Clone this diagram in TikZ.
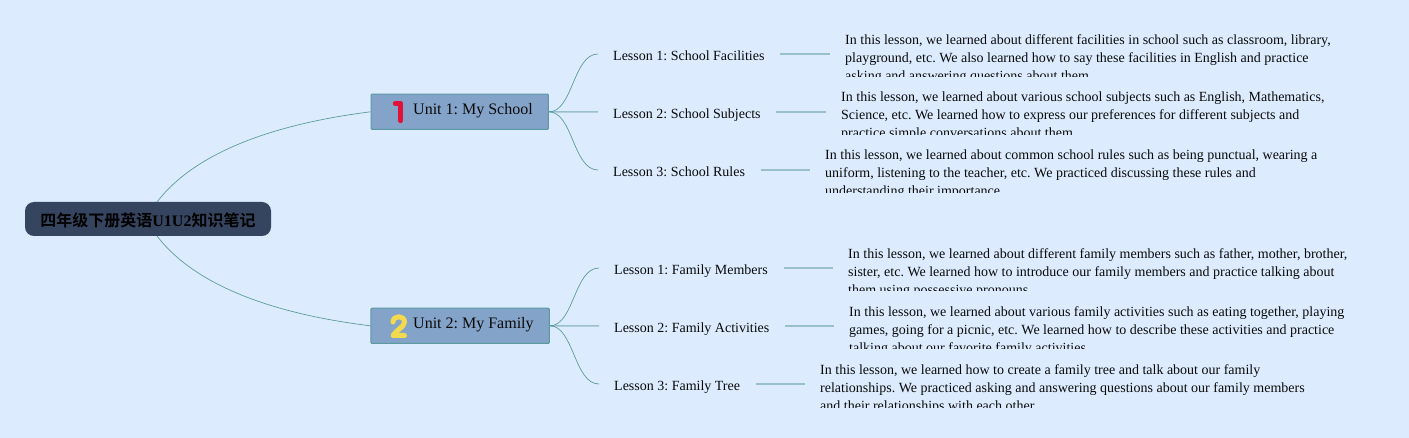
\documentclass[tikz,border=0pt]{standalone}
\usepackage{fontspec}
\setmainfont{Liberation Serif}
\newfontfamily\cjk{Noto Sans CJK SC}[BoldFont={* Bold}]
\definecolor{bgc}{HTML}{DCECFE}
\definecolor{rootc}{HTML}{36455F}
\definecolor{unitc}{HTML}{84A3C8}
\definecolor{edgec}{HTML}{5C9AA2}
\definecolor{linec}{HTML}{9ABFCC}
\definecolor{txtc}{HTML}{0A0A0A}
\definecolor{onec}{HTML}{E0123A}
\definecolor{twoc}{HTML}{F2D94E}
\tikzset{
  rootbox/.style={draw=none,fill=rootc,rounded corners=9pt,minimum width=246pt,minimum height=34pt,inner sep=0pt,font=\fontsize{16}{18}\selectfont\bfseries},
  unitbox/.style={draw=edgec,line width=1pt,fill=unitc,rounded corners=1pt,minimum height=35.4pt,inner sep=0pt},
  unitlabel/.style={anchor=base west,inner sep=0pt,font=\fontsize{16}{18}\selectfont,text=txtc},
  lesson/.style={anchor=base west,inner sep=0pt,font=\fontsize{14}{16}\selectfont,text=txtc},
  desc/.style={anchor=north west,inner sep=0pt,align=left,font=\fontsize{14}{18}\selectfont,text=txtc},
  thin link/.style={draw=edgec,line width=0.7pt},
  lead/.style={draw=linec,line width=1.5pt},
}
\newcommand{\dtext}[5]{%
  \begin{scope}
    \clip (#1,#2) rectangle (1409,#2+43);
    \node[desc] (#3) at (#1,#2) {#4\\#5};
  \end{scope}}
\newcommand{\leadline}[3]{%
  \coordinate (p#1) at ([xshift=15.5pt,yshift=7pt]#1.base east);
  \draw[lead] (p#1) -- (#2.west |- p#1);}
\begin{document}
\begin{tikzpicture}[x=1pt,y=-1pt]
\frenchspacing
\useasboundingbox (0,0) rectangle (1409,438);
\fill[bgc] (0,0) rectangle (1409,438);
% nodes
\node[rootbox] (root) at (148,219) {};
\node[inner sep=0pt,font=\fontsize{16}{18}\selectfont\bfseries] (roott) at (148,220) {\cjk\textbf{四年级下册英语}\rmfamily\textbf{U1U2}\cjk\textbf{知识笔记}};
\node[unitbox,minimum width=177.4pt] (u1) at (459.7,111.8) {};
\node[unitbox,minimum width=178.4pt] (u2) at (460.1,325.8) {};
\node[unitlabel] (u1t) at (413,115) {Unit 1: My School};
\node[unitlabel] (u2t) at (413,329) {Unit 2: My Family};
% icons
\draw[onec,line width=5.4pt,line cap=round,line join=round] (395.5,103.5) -- (400.5,103.5) -- (400.5,120.5);
\draw[twoc,line width=5pt,line cap=round,line join=round] (393,322) .. controls (393,315) and (404.5,315) .. (404.5,322) .. controls (404.5,327) and (396,330) .. (393,335.5) -- (404.5,335.5);
% lessons
\node[lesson] (a1) at (613,61) {Lesson 1: School Facilities};
\node[lesson] (a2) at (613,119) {Lesson 2: School Subjects};
\node[lesson] (a3) at (613,177) {Lesson 3: School Rules};
\node[lesson] (b1) at (614,275) {Lesson 1: Family Members};
\node[lesson] (b2) at (614,333) {Lesson 2: Family Activities};
\node[lesson] (b3) at (614,391) {Lesson 3: Family Tree};
% descriptions
\dtext{845}{34}{da1}{In this lesson, we learned about different facilities in school such as classroom, library,\\playground, etc. We also learned how to say these facilities in English and practice}{asking and answering questions about them.}
\dtext{841}{92}{da2}{In this lesson, we learned about various school subjects such as English, Mathematics,\\Science, etc. We learned how to express our preferences for different subjects and}{practice simple conversations about them.}
\dtext{825}{150}{da3}{In this lesson, we learned about common school rules such as being punctual, wearing a\\uniform, listening to the teacher, etc. We practiced discussing these rules and}{understanding their importance.}
\dtext{848}{248}{db1}{In this lesson, we learned about different family members such as father, mother, brother,\\sister, etc. We learned how to introduce our family members and practice talking about}{them using possessive pronouns.}
\dtext{849}{306}{db2}{In this lesson, we learned about various family activities such as eating together, playing\\games, going for a picnic, etc. We learned how to describe these activities and practice}{talking about our favorite family activities.}
\dtext{820}{364}{db3}{In this lesson, we learned how to create a family tree and talk about our family\\relationships. We practiced asking and answering questions about our family members}{and their relationships with each other.}
% connectors
\coordinate (r1) at (157,202);
\coordinate (r2) at (157,236);
\draw[thin link] (r1) .. controls (200,146) and (290,122) .. (u1.west);
\draw[thin link] (r2) .. controls (200,292) and (290,316) .. (u2.west);
\coordinate (ea1) at (598,54); \coordinate (ea2) at (598,112); \coordinate (ea3) at (598,170);
\coordinate (eb1) at (599,268); \coordinate (eb2) at (599,326); \coordinate (eb3) at (599,384);
\draw[thin link] (u1.east) .. controls (573,112) and (573,54) .. (ea1);
\draw[lead] (u1.east) -- (ea2);
\draw[thin link] (u1.east) .. controls (573,112) and (573,170) .. (ea3);
\draw[thin link] (u2.east) .. controls (574,326) and (574,268) .. (eb1);
\draw[lead] (u2.east) -- (eb2);
\draw[thin link] (u2.east) .. controls (574,326) and (574,384) .. (eb3);
\draw[edgec,line width=1.4pt] (u1.east) -- ++(4,0);
\draw[edgec,line width=1.4pt] (u2.east) -- ++(4,0);
% leads
\coordinate (da1w) at (830,0); \coordinate (da2w) at (826,0); \coordinate (da3w) at (810,0);
\coordinate (db1w) at (833,0); \coordinate (db2w) at (834,0); \coordinate (db3w) at (805,0);
\leadline{a1}{da1w}{}
\leadline{a2}{da2w}{}
\leadline{a3}{da3w}{}
\leadline{b1}{db1w}{}
\leadline{b2}{db2w}{}
\leadline{b3}{db3w}{}
\end{tikzpicture}
\end{document}
